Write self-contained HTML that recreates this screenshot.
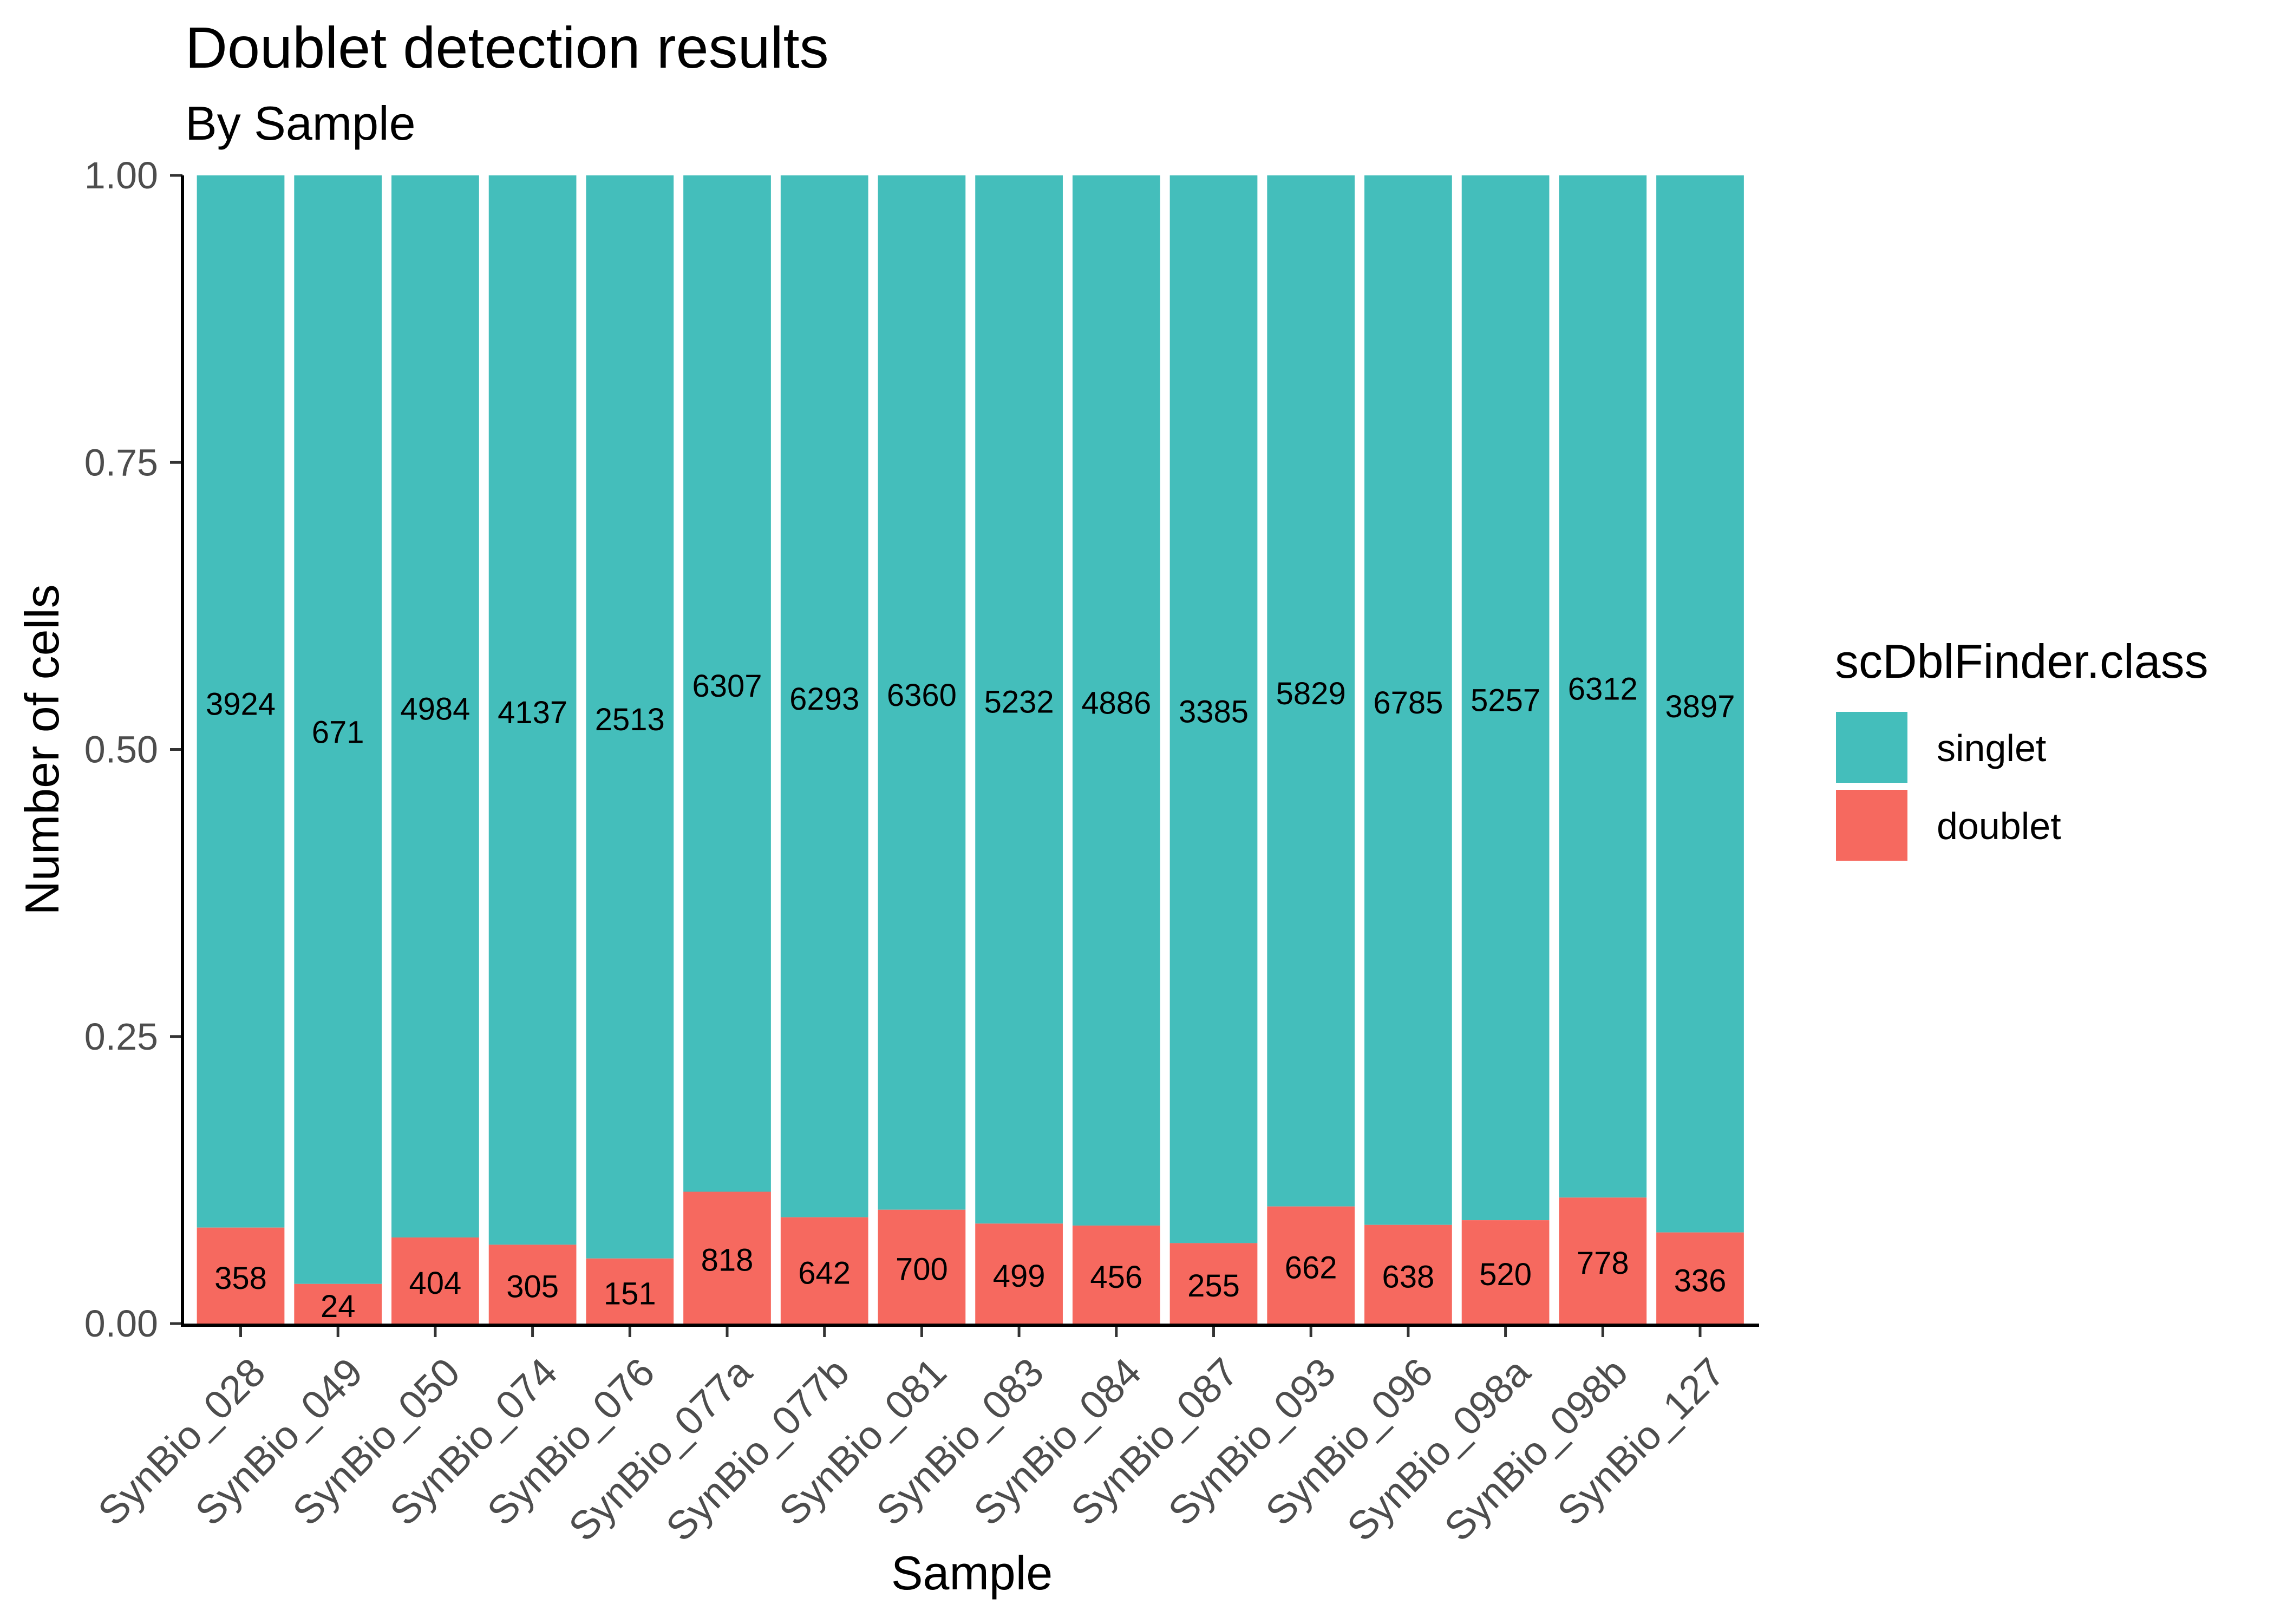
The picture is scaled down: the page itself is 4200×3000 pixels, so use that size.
<!DOCTYPE html>
<html><head><meta charset="utf-8"><style>
html,body{margin:0;padding:0;background:#fff}
svg{display:block}
text{font-family:"Liberation Sans",Arial,sans-serif}
</style></head><body>
<svg id="chart" width="4200" height="3000" viewBox="0 0 4200 3000" xmlns="http://www.w3.org/2000/svg">
<text x="342" y="125" font-size="108" fill="#000">Doublet detection results</text>
<text x="342" y="258" font-size="88" fill="#000">By Sample</text>
<g id="bars"></g>
<g id="labels"></g>
<g id="yaxis"></g>
<g id="xaxis"></g>
<text x="1795" y="2936" font-size="88" text-anchor="middle" fill="#000">Sample</text>
<text transform="translate(108,1385) rotate(-90)" font-size="88" text-anchor="middle" fill="#000">Number of cells</text>
<g>
<text x="3389" y="1252" font-size="88" fill="#000">scDblFinder.class</text>
<rect x="3391" y="1315" width="132" height="131" fill="#44BEBB"/>
<text x="3577" y="1406" font-size="70" fill="#000">singlet</text>
<rect x="3391" y="1459" width="132" height="131" fill="#F6695F"/>
<text x="3577" y="1550" font-size="70" fill="#000">doublet</text>
</g>
</svg>
<script>
const samples = ["SynBio_028","SynBio_049","SynBio_050","SynBio_074","SynBio_076","SynBio_077a","SynBio_077b","SynBio_081","SynBio_083","SynBio_084","SynBio_087","SynBio_093","SynBio_096","SynBio_098a","SynBio_098b","SynBio_127"];
const singlet = [3924,671,4984,4137,2513,6307,6293,6360,5232,4886,3385,5829,6785,5257,6312,3897];
const doublet = [358,24,404,305,151,818,642,700,499,456,255,662,638,520,778,336];
const yTicks = [0,0.25,0.5,0.75,1];
const yTickLabels = ["0.00","0.25","0.50","0.75","1.00"];

const NS="http://www.w3.org/2000/svg";
const y0=2445, y1=324;
const yScale = v => y0 - v*(y0-y1);
const step=179.7, firstC=444.5;
const xScale = i => firstC + i*step;
const bw = step*0.9;
function mk(tag, attrs, parent){const e=document.createElementNS(NS,tag);for(const k in attrs)e.setAttribute(k,attrs[k]);parent.appendChild(e);return e;}
const bars=document.getElementById('bars'), labels=document.getElementById('labels');
const yax=document.getElementById('yaxis'), xax=document.getElementById('xaxis');

samples.forEach((s,i)=>{
  const tot=singlet[i]+doublet[i];
  const fd=doublet[i]/tot;
  const cx=xScale(i);
  const rs=mk('rect',{x:cx-bw/2,y:yScale(1),width:bw,height:yScale(fd)-yScale(1),fill:'#44BEBB'},bars);
  
  
  const rd=mk('rect',{x:cx-bw/2,y:yScale(fd),width:bw,height:yScale(0)-yScale(fd),fill:'#F6695F'},bars);
  
  
  const ts=mk('text',{x:cx,y:yScale((fd+1)/2)+5,'font-size':58,'text-anchor':'middle','dominant-baseline':'central',fill:'#000'},labels);
  ts.textContent=singlet[i];
  
  
  const td=mk('text',{x:cx,y:yScale(fd/2)+5,'font-size':58,'text-anchor':'middle','dominant-baseline':'central',fill:'#000'},labels);
  td.textContent=doublet[i];
  
  
  const tk=mk('line',{x1:cx,x2:cx,y1:2448,y2:2470,stroke:'#333','stroke-width':5},xax);
  
  
  const ax=cx+50, ay=2540;
  const tl=mk('text',{x:ax,y:ay,'font-size':74,'text-anchor':'end',fill:'#4d4d4d',transform:`rotate(-45 ${ax} ${ay})`},xax);
  tl.textContent=s;
  
  
});
yTicks.forEach((t,i)=>{
  const y=yScale(t);
  const tk=mk('line',{x1:314,x2:337,y1:y,y2:y,stroke:'#333','stroke-width':5},yax);
  
  
  const tl=mk('text',{x:292,y:y,'font-size':70,'text-anchor':'end','dominant-baseline':'central',fill:'#4d4d4d'},yax);
  tl.textContent=yTickLabels[i];
  
  
});
const yl=mk('line',{x1:337,x2:337,y1:yScale(1),y2:2451,stroke:'#000','stroke-width':6},yax);


const xl=mk('line',{x1:334,x2:3249,y1:2448,y2:2448,stroke:'#000','stroke-width':6},xax);


</script>
</body></html>
